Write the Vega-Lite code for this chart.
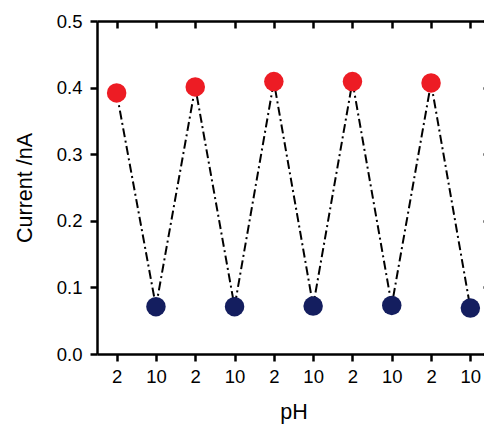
{
  "$schema": "https://vega.github.io/schema/vega-lite/v6.json",
  "autosize": "none",
  "padding": {"left": 97, "top": 21, "right": 0, "bottom": 72},
  "width": 393,
  "height": 333,
  "background": "white",
  "config": {
    "font": "Liberation Sans",
    "view": {"stroke": null},
    "axis": {
      "grid": false,
      "domainColor": "black",
      "domainWidth": 2.5,
      "tickColor": "black",
      "tickWidth": 2.5,
      "labelColor": "black",
      "titleColor": "black",
      "labelFont": "Liberation Sans",
      "titleFont": "Liberation Sans",
      "labelFontSize": 18.5,
      "titleFontSize": 21.5,
      "titleFontWeight": "normal"
    }
  },
  "data": {
    "values": [
      {"n": 1, "pH": "2", "current": 0.392},
      {"n": 2, "pH": "10", "current": 0.071},
      {"n": 3, "pH": "2", "current": 0.401},
      {"n": 4, "pH": "10", "current": 0.071},
      {"n": 5, "pH": "2", "current": 0.409},
      {"n": 6, "pH": "10", "current": 0.072},
      {"n": 7, "pH": "2", "current": 0.409},
      {"n": 8, "pH": "10", "current": 0.073},
      {"n": 9, "pH": "2", "current": 0.407},
      {"n": 10, "pH": "10", "current": 0.069}
    ]
  },
  "resolve": {"axis": {"x": "independent", "y": "independent"}},
  "layer": [
    {
      "mark": {"type": "line", "color": "black", "strokeWidth": 2, "strokeDash": [9, 3.5, 2, 3.5]},
      "encoding": {
        "x": {
          "field": "n", "type": "ordinal",
          "scale": {"type": "point", "padding": 0.5},
          "axis": {
            "orient": "bottom", "title": "pH", "labelAngle": 0,
            "labelExpr": "datum.value % 2 == 1 ? '2' : '10'",
            "tickSize": 7, "labelPadding": 6, "titlePadding": 16
          }
        },
        "y": {
          "field": "current", "type": "quantitative",
          "scale": {"domain": [0, 0.5], "nice": false, "zero": true},
          "axis": {
            "orient": "left", "title": "Current /nA", "values": [0, 0.1, 0.2, 0.3, 0.4, 0.5],
            "format": ".1f", "tickSize": 7, "labelPadding": 8, "titlePadding": 20
          }
        }
      }
    },
    {
      "mark": {"type": "point", "filled": true, "opacity": 1, "size": 380},
      "encoding": {
        "x": {
          "field": "n", "type": "ordinal",
          "scale": {"type": "point", "padding": 0.5},
          "axis": {"orient": "top", "title": null, "labels": false, "tickSize": -7}
        },
        "y": {
          "field": "current", "type": "quantitative",
          "scale": {"domain": [0, 0.5], "nice": false, "zero": true},
          "axis": {"orient": "right", "title": null, "labels": false, "values": [0, 0.1, 0.2, 0.3, 0.4, 0.5], "tickSize": -7}
        },
        "color": {
          "field": "pH", "type": "nominal",
          "scale": {"domain": ["2", "10"], "range": ["#ED1C24", "#141E5F"]},
          "legend": null
        }
      }
    }
  ]
}
